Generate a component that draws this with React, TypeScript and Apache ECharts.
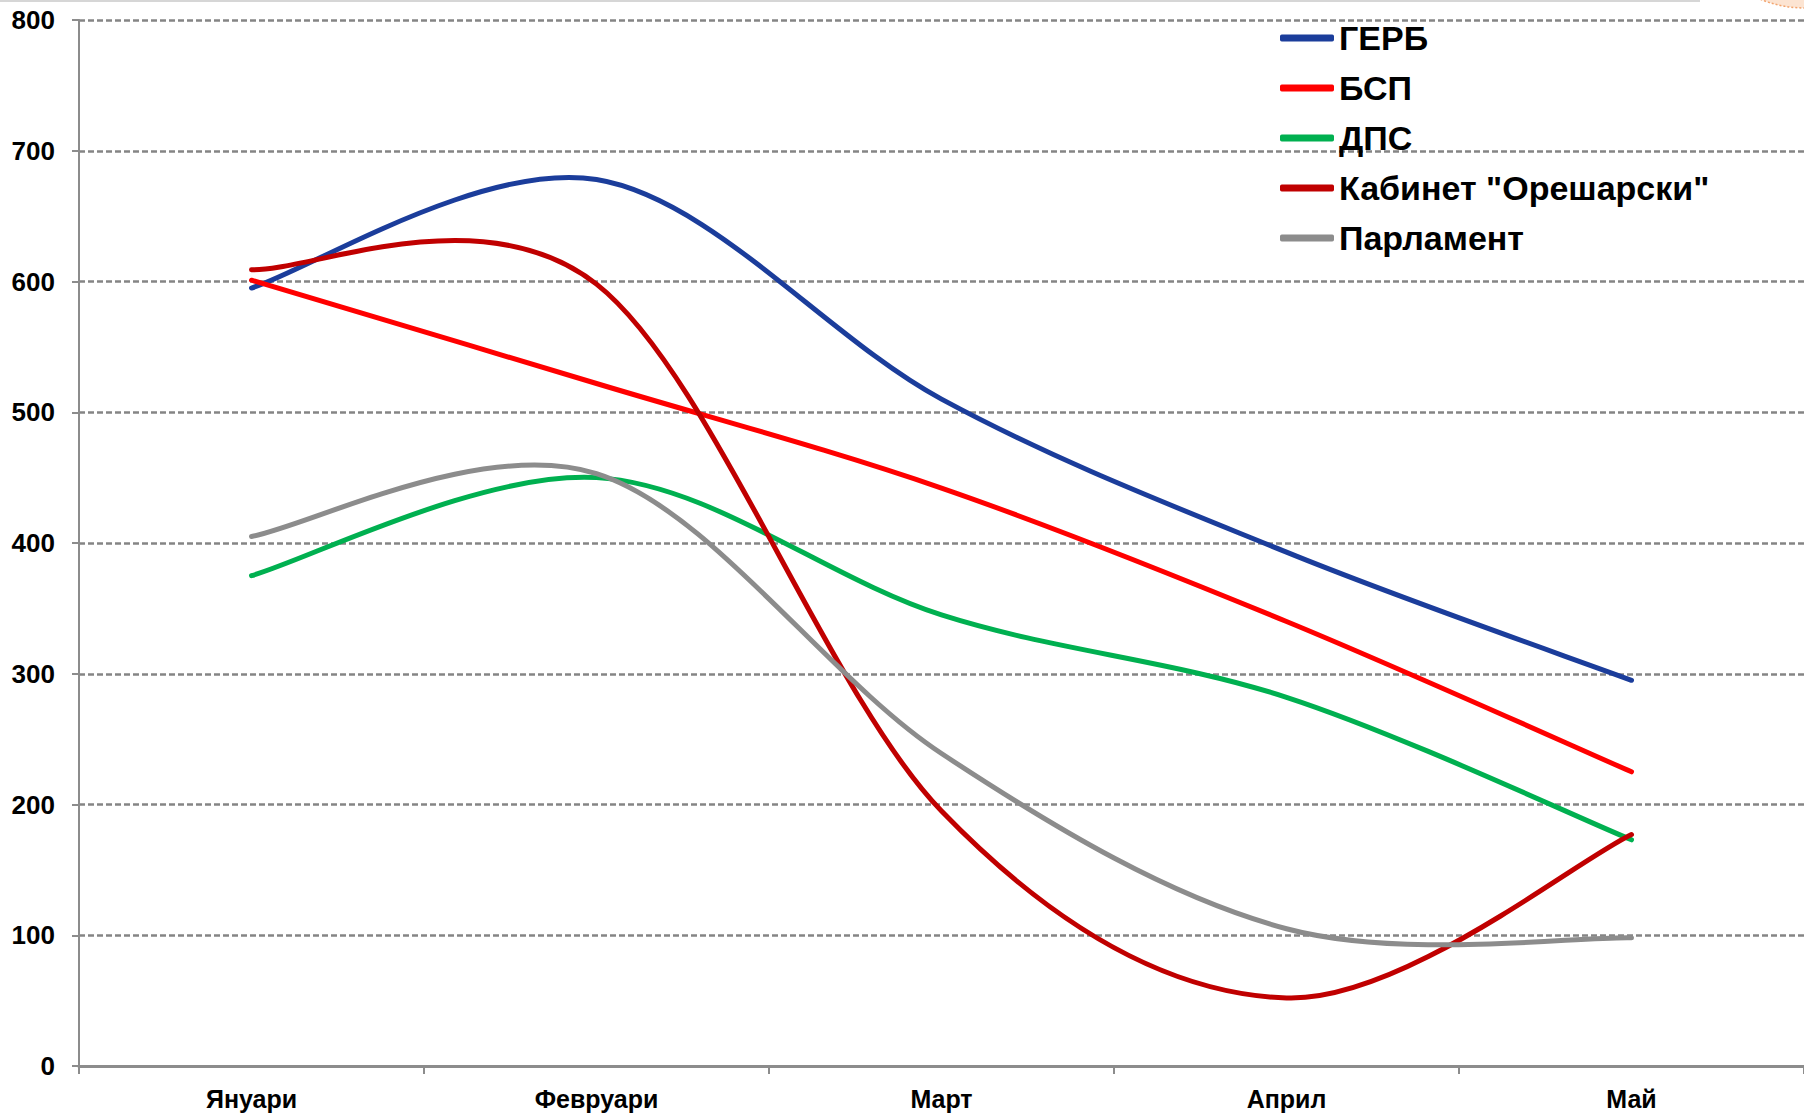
import React, { useEffect, useRef } from "react";
import * as echarts from "echarts";

const categories = ["Януари", "Февруари", "Март", "Април", "Май"];
const seriesNames = ["ГЕРБ", "БСП", "ДПС", "Кабинет \"Орешарски\"", "Парламент"];
const gerb = [595, 678, 510, 393, 295];
const bsp = [601, 522, 442, 340, 225];
const dps = [375, 450, 345, 282, 173];
const kabinet = [609, 598, 195, 52, 177];
const parlament = [405, 453, 239, 105, 98];
const seriesColors = ["#1b3d9b", "#ff0000", "#00b050", "#c00000", "#8c8c8c"];
const yTicks = { min: 0, max: 800, interval: 100 };

// Smooth curve through all points (Catmull-Rom style Bezier, like spreadsheet "smoothed line")
function makeRenderItem(values: number[], color: string) {
  return (params: any, api: any) => {
    const pts = values.map((v, j) => api.coord([j, v]));
    const n = pts.length;
    let d = `M${pts[0][0]},${pts[0][1]}`;
    for (let i = 0; i < n - 1; i++) {
      const p0 = pts[Math.max(i - 1, 0)];
      const p1 = pts[i];
      const p2 = pts[i + 1];
      const p3 = pts[Math.min(i + 2, n - 1)];
      const c1x = p1[0] + (p2[0] - p0[0]) / 6;
      const c1y = p1[1] + (p2[1] - p0[1]) / 6;
      const c2x = p2[0] - (p3[0] - p1[0]) / 6;
      const c2y = p2[1] - (p3[1] - p1[1]) / 6;
      d += ` C${c1x},${c1y} ${c2x},${c2y} ${p2[0]},${p2[1]}`;
    }
    return {
      type: "path",
      shape: { pathData: d },
      style: { fill: "none", stroke: color, lineWidth: 5, lineCap: "round", lineJoin: "round" },
    };
  };
}

export default function App() {
  const ref = useRef<HTMLDivElement>(null);
  useEffect(() => {
    if (!ref.current) return;
    const chart = echarts.init(ref.current, null, { renderer: "svg" });
    const data = [gerb, bsp, dps, kabinet, parlament];
    const font = "'Liberation Sans', Arial, sans-serif";
    chart.setOption({
      animation: false,
      backgroundColor: "#ffffff",
      grid: { left: 79, top: 20, width: 1732, height: 1046, containLabel: false },
      legend: {
        orient: "vertical",
        left: 1275,
        top: 16,
        icon: "roundRect",
        itemWidth: 54,
        itemHeight: 7,
        itemGap: 16,
        data: seriesNames,
        textStyle: { fontFamily: font, fontSize: 34, fontWeight: "bold", color: "#000", lineHeight: 34 },
      },
      xAxis: {
        type: "category",
        data: categories,
        boundaryGap: true,
        axisLine: { show: true, lineStyle: { color: "#8c8c8c", width: 3 } },
        axisTick: { show: true, length: 8, lineStyle: { color: "#8c8c8c", width: 2 } },
        axisLabel: { margin: 20, fontFamily: font, fontSize: 25, fontWeight: "bold", color: "#000" },
        splitLine: { show: false },
      },
      yAxis: {
        type: "value",
        min: yTicks.min,
        max: yTicks.max,
        interval: yTicks.interval,
        axisLine: { show: true, lineStyle: { color: "#8c8c8c", width: 2 } },
        axisTick: { show: true, length: 7, lineStyle: { color: "#8c8c8c", width: 2 } },
        axisLabel: { margin: 24, fontFamily: font, fontSize: 26, fontWeight: "bold", color: "#000" },
        splitLine: { show: true, lineStyle: { color: "#858585", width: 2.5, type: [6, 3] } },
      },
      series: seriesNames.map((name, i) => ({
        name,
        type: "custom",
        coordinateSystem: "cartesian2d",
        data: data[i].map((v, j) => [j, v]),
        encode: { x: 0, y: 1 },
        renderItem: (params: any, api: any) =>
          params.dataIndex === 0 ? makeRenderItem(data[i], seriesColors[i])(params, api) : null,
        itemStyle: { color: seriesColors[i] },
        z: 2 + i,
      })),
      graphic: [
        {
          type: "line",
          shape: { x1: 0, y1: 1, x2: 1700, y2: 1 },
          style: { stroke: "#d6d6d6", lineWidth: 2 },
          silent: true,
        },
        {
          type: "circle",
          shape: { cx: 1805, cy: -112, r: 120 },
          style: { fill: "#fce4d2", stroke: "#f2a46e", lineWidth: 1.5, lineDash: [2, 2] },
          silent: true,
        },
      ],
    });
    return () => chart.dispose();
  }, []);
  return (
    <div
      ref={ref}
      style={{ position: "absolute", left: 0, top: 0, width: 1804, height: 1116 }}
    />
  );
}
